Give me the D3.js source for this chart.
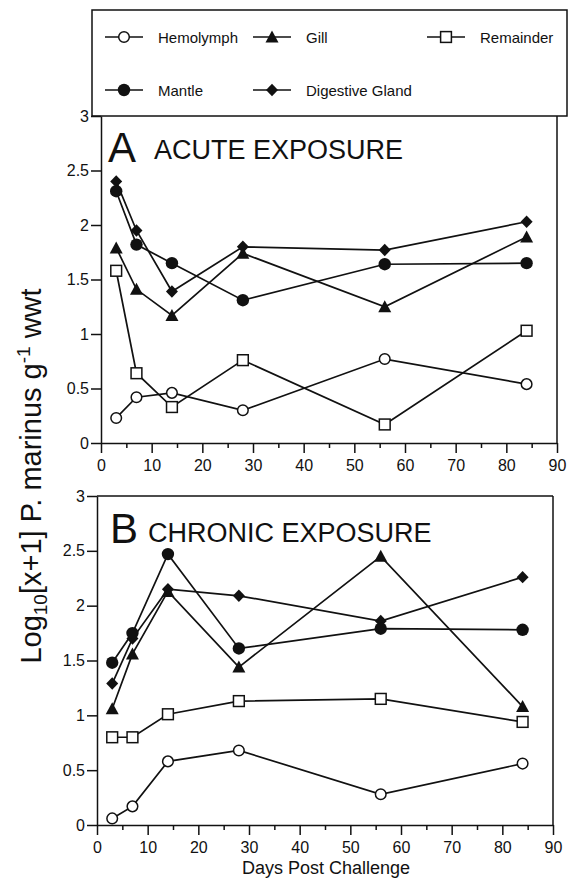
<!DOCTYPE html>
<html>
<head>
<meta charset="utf-8">
<script src="https://cdn.jsdelivr.net/npm/d3@7"></script>
<style>
  html, body { margin: 0; padding: 0; background: #fff; }
  svg { display: block; }
  text { font-family: "Liberation Sans", Arial, Helvetica, sans-serif; fill: #111; }
</style>
</head>
<body>
<svg id="chart" width="568" height="881"></svg>
<script>
// Sampling days after challenge
const days = [3, 7, 14, 28, 56, 84];

// Acute exposure, log10[x+1] P. marinus per g wet weight
const acuteHemolymph  = [0.23, 0.42, 0.46, 0.30, 0.77, 0.54];
const acuteGill       = [1.79, 1.41, 1.17, 1.74, 1.25, 1.89];
const acuteRemainder  = [1.58, 0.64, 0.33, 0.76, 0.17, 1.03];
const acuteMantle     = [2.31, 1.82, 1.65, 1.31, 1.64, 1.65];
const acuteDigestive  = [2.40, 1.95, 1.39, 1.80, 1.77, 2.03];

// Chronic exposure
const chronicHemolymph = [0.06, 0.17, 0.58, 0.68, 0.28, 0.56];
const chronicGill      = [1.06, 1.56, 2.13, 1.44, 2.45, 1.08];
const chronicRemainder = [0.80, 0.80, 1.01, 1.13, 1.15, 0.94];
const chronicMantle    = [1.48, 1.75, 2.47, 1.61, 1.79, 1.78];
const chronicDigestive = [1.29, 1.70, 2.15, 2.09, 1.86, 2.26];

// Tick values and labels
const yTicks = [0, 0.5, 1, 1.5, 2, 2.5, 3];
const xMajorTicks = [0, 10, 20, 30, 40, 50, 60, 70, 80, 90];
const xMinorTicks = [5, 15, 25, 35, 45, 55, 65, 75, 85];

const seriesNames = ["Hemolymph", "Gill", "Remainder", "Mantle", "Digestive Gland"];
const markerOf = {
  "Hemolymph": "openCircle",
  "Gill": "triangle",
  "Remainder": "openSquare",
  "Mantle": "filledCircle",
  "Digestive Gland": "diamond"
};

const svg = d3.select("#chart");
const font = "\"Liberation Sans\", Arial, Helvetica, sans-serif";

// marker drawing
function drawMarker(g, type, x, y) {
  const sw = 1.5;
  switch (type) {
    case "openCircle":
      g.append("circle").attr("cx", x).attr("cy", y).attr("r", 5.3)
        .attr("fill", "#fff").attr("stroke", "#111").attr("stroke-width", sw);
      break;
    case "filledCircle":
      g.append("circle").attr("cx", x).attr("cy", y).attr("r", 6.2)
        .attr("fill", "#111");
      break;
    case "openSquare":
      g.append("rect").attr("x", x - 5.4).attr("y", y - 5.4)
        .attr("width", 10.8).attr("height", 10.8)
        .attr("fill", "#fff").attr("stroke", "#111").attr("stroke-width", sw);
      break;
    case "triangle":
      g.append("path")
        .attr("d", `M${x},${y - 6.5}L${x + 6.5},${y + 5.5}L${x - 6.5},${y + 5.5}Z`)
        .attr("fill", "#111");
      break;
    case "diamond":
      g.append("path")
        .attr("d", `M${x},${y - 6.2}L${x + 6},${y}L${x},${y + 6.2}L${x - 6},${y}Z`)
        .attr("fill", "#111");
      break;
  }
}

function drawPanel(opts) {
  const { x0, x1, yTop, yBottom, series, letter, title, letterX, letterY, titleX, titleY, fullBox } = opts;
  const x = d3.scaleLinear().domain([0, 90]).range([x0, x1]);
  const y = d3.scaleLinear().domain([0, 3]).range([yBottom, yTop]);
  const g = svg.append("g");

  // frame: top and right sides
  if (fullBox) {
    g.append("line").attr("x1", x0).attr("x2", x1).attr("y1", yTop).attr("y2", yTop)
      .attr("stroke", "#111").attr("stroke-width", 1.5);
  }
  g.append("line").attr("x1", x1).attr("x2", x1).attr("y1", yTop).attr("y2", yBottom)
    .attr("stroke", "#111").attr("stroke-width", 1.5);

  // y axis
  const yAxis = d3.axisLeft(y).tickValues(yTicks).tickSize(10).tickSizeOuter(0)
    .tickPadding(2).tickFormat(d => String(d));
  const ya = g.append("g").attr("transform", `translate(${x0},0)`).call(yAxis);
  // x axis (major)
  const xAxis = d3.axisBottom(x).tickValues(xMajorTicks).tickSize(10).tickSizeOuter(0)
    .tickPadding(7).tickFormat(d => String(d));
  const xa = g.append("g").attr("transform", `translate(0,${yBottom})`).call(xAxis);
  // x axis (minor)
  const xm = g.append("g").attr("transform", `translate(0,${yBottom})`)
    .call(d3.axisBottom(x).tickValues(xMinorTicks).tickSize(5).tickSizeOuter(0).tickFormat(""));
  xm.select(".domain").remove();

  [ya, xa, xm].forEach(a => {
    a.select(".domain").attr("stroke", "#111").attr("stroke-width", 1.5);
    a.selectAll(".tick line").attr("stroke", "#111").attr("stroke-width", 1.5);
    a.selectAll(".tick text").attr("font-family", font).attr("font-size", 16).attr("fill", "#111");
  });

  // lines
  const line = d3.line().x((d, i) => x(days[i])).y(d => y(d));
  seriesNames.forEach(name => {
    g.append("path").datum(series[name]).attr("d", line)
      .attr("fill", "none").attr("stroke", "#111").attr("stroke-width", 1.7)
      .attr("stroke-linejoin", "miter");
  });
  // markers
  ["Hemolymph", "Remainder", "Gill", "Digestive Gland", "Mantle"].forEach(name => {
    series[name].forEach((v, i) => drawMarker(g, markerOf[name], x(days[i]), y(v)));
  });

  // panel label
  g.append("text").attr("x", letterX).attr("y", letterY)
    .attr("font-size", 42).text(letter);
  g.append("text").attr("x", titleX).attr("y", titleY)
    .attr("font-size", 27).text(title);
  return { x, y };
}

// legend box
const legend = svg.append("g");
legend.append("rect").attr("x", 92).attr("y", 10).attr("width", 475).attr("height", 106)
  .attr("fill", "#fff").attr("stroke", "#111").attr("stroke-width", 1.5);
const legendCols = { "Hemolymph": [105, 37], "Gill": [253, 37], "Remainder": [427, 37],
                     "Mantle": [105, 90], "Digestive Gland": [253, 90] };
seriesNames.forEach(name => {
  const [lx, ly] = legendCols[name];
  legend.append("line").attr("x1", lx).attr("x2", lx + 38).attr("y1", ly).attr("y2", ly)
    .attr("stroke", "#111").attr("stroke-width", 1.7);
  drawMarker(legend, markerOf[name], lx + 19, ly);
  legend.append("text").attr("x", lx + (name === "Digestive Gland" ? 53 : 53)).attr("y", ly + 5.5)
    .attr("font-size", 15).text(name);
});

drawPanel({
  x0: 101, x1: 557, yTop: 116, yBottom: 443, fullBox: false,
  series: { "Hemolymph": acuteHemolymph, "Gill": acuteGill, "Remainder": acuteRemainder,
            "Mantle": acuteMantle, "Digestive Gland": acuteDigestive },
  letter: "A", letterX: 108, letterY: 162, title: "ACUTE EXPOSURE", titleX: 154, titleY: 159
});

drawPanel({
  x0: 97, x1: 553, yTop: 496, yBottom: 825, fullBox: true,
  series: { "Hemolymph": chronicHemolymph, "Gill": chronicGill, "Remainder": chronicRemainder,
            "Mantle": chronicMantle, "Digestive Gland": chronicDigestive },
  letter: "B", letterX: 110, letterY: 543, title: "CHRONIC EXPOSURE", titleX: 148, titleY: 542
});

// x-axis title
svg.append("text").attr("x", 326).attr("y", 874).attr("text-anchor", "middle")
  .attr("font-size", 18).text("Days Post Challenge");

// y-axis title
const yt = svg.append("text").attr("transform", "translate(41,476) rotate(-90)")
  .attr("text-anchor", "middle").attr("font-size", 29);
yt.append("tspan").text("Log");
yt.append("tspan").attr("font-size", 19).attr("dy", 6).text("10");
yt.append("tspan").attr("dy", -6).text("[x+1] P. marinus g");
yt.append("tspan").attr("font-size", 19).attr("dy", -11).text("-1");
yt.append("tspan").attr("dy", 11).text(" wwt");
</script>
</body>
</html>
